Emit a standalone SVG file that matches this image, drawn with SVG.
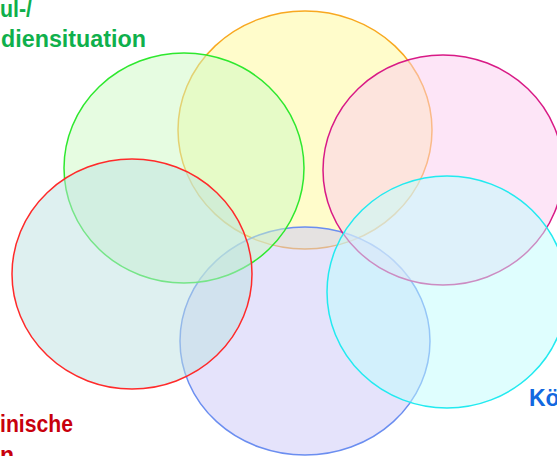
<svg xmlns="http://www.w3.org/2000/svg" width="557" height="456" viewBox="0 0 557 456">
<style>
.c{stroke-width:1.5;fill-opacity:0.5}
.t{font-family:"Liberation Sans",Arial,sans-serif;font-weight:bold;font-size:23px}
</style>
<rect width="557" height="456" fill="#ffffff"/>
<g id="yellow"><ellipse class="c" cx="305" cy="130" rx="127" ry="119" fill="#fff997" stroke="#f8a820"/></g>
<g id="blue"><ellipse class="c" cx="305" cy="341" rx="125" ry="114" fill="#cbc7f7" stroke="#6b8ef0"/></g>
<g id="green"><ellipse class="c" cx="184" cy="168" rx="120" ry="115" fill="#cdf9c3" stroke="#2ee82e"/></g>
<g id="red"><ellipse class="c" cx="132" cy="274" rx="120" ry="115" fill="#bde1e1" stroke="#ff2a2a"/></g>
<g id="magenta"><ellipse class="c" cx="443" cy="170" rx="120" ry="115" fill="#fbcbef" stroke="#d81a86"/></g>
<g id="cyan"><ellipse class="c" cx="447" cy="292" rx="120" ry="116" fill="#bffdfd" stroke="#22eaf0"/></g>
<g id="labels">
<text class="t" x="0" y="17" fill="#0fb04c" textLength="32" lengthAdjust="spacingAndGlyphs">ul-/</text>
<text class="t" x="1" y="47" fill="#0fb04c" textLength="145" lengthAdjust="spacingAndGlyphs">diensituation</text>
<text class="t" x="0" y="432" fill="#c8000c" textLength="73" lengthAdjust="spacingAndGlyphs">inische</text>
<text class="t" x="0" y="463" fill="#c8000c">n</text>
<text class="t" x="529" y="406" fill="#1268e0">Kö</text>
</g>
<g id="connectors"/>
</svg>
